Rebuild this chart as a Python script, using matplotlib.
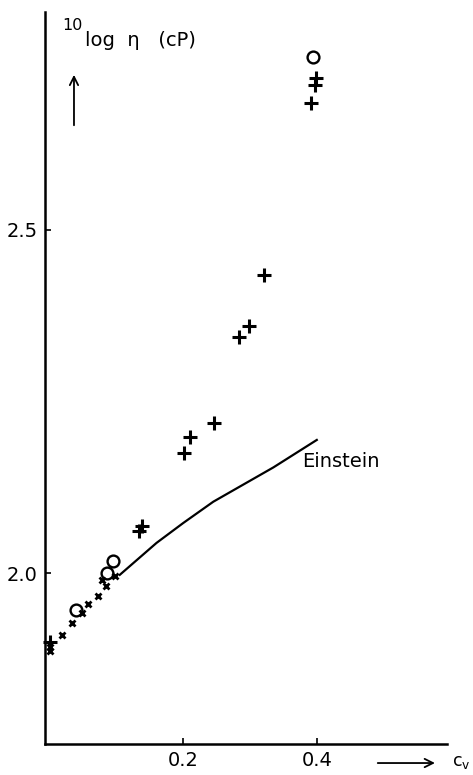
import numpy as np
import matplotlib
matplotlib.use('Agg')
import matplotlib.pyplot as plt

# measured points, cv (volume fraction) vs 10log eta
plus_cv=[0.0,0.133,0.138,0.2015,0.210,0.246,0.284,0.299,0.321,0.3985,0.397,0.391]
plus_eta=[1.8995,2.061,2.068,2.175,2.198,2.219,2.344,2.360,2.434,2.721,2.711,2.685]

cross_cv=[0.0,0.0,0.019,0.033,0.048,0.058,0.072,0.084,0.078,0.098]
cross_eta=[1.893,1.887,1.910,1.927,1.942,1.955,1.967,1.9815,1.990,1.9965]

circ_cv=[0.040,0.086,0.095,0.394]
circ_eta=[1.9465,2.000,2.017,2.752]

# Einstein curve
ein_cv=[0.105,0.16,0.2,0.245,0.335,0.4]
ein_eta=[1.9975,2.044,2.073,2.104,2.154,2.194]

fig=plt.figure(figsize=(4.73,7.75),dpi=100)
ax=fig.add_axes([0.0945,0.04,0.8505,0.9445])

ax.plot(ein_cv,ein_eta,'k-',lw=1.6)
ax.plot(plus_cv,plus_eta,'k+',ms=10,mew=2.2,clip_on=False)
ax.plot(cross_cv,cross_eta,'kx',ms=5,mew=2.0,clip_on=False)
ax.plot(circ_cv,circ_eta,'o',mfc='none',mec='k',ms=8.5,mew=1.7,clip_on=False)

ax.text(0.378,2.162,'Einstein',fontsize=14,va='center',ha='left')

ax.set_xlim(-0.0075,0.595)
ax.set_ylim(1.751,2.8175)
ax.set_xticks([0.2,0.4])
ax.set_xticklabels(['0.2','0.4'])
ax.set_yticks([2.0,2.5])
ax.set_yticklabels(['2.0','2.5'])
ax.tick_params(direction='in',length=4,width=1.2,labelsize=14,pad=5)
for s in ['top','right']:
    ax.spines[s].set_visible(False)
for s in ['left','bottom']:
    ax.spines[s].set_linewidth(1.8)

# axis labels with arrows
ax.text(0.043,0.981,'10',transform=ax.transAxes,fontsize=11.5,va='center',ha='left')
ax.text(0.100,0.9536,'log  η   (cP)',transform=ax.transAxes,fontsize=14,va='baseline',ha='left')
ax.annotate('',xy=(0.0728,0.918),xytext=(0.0728,0.8415),xycoords='axes fraction',
            arrowprops=dict(arrowstyle='->',lw=1.3,color='k',mutation_scale=15),annotation_clip=False)
ax.annotate('',xy=(0.977,-0.026),xytext=(0.821,-0.026),xycoords='axes fraction',
            arrowprops=dict(arrowstyle='->',lw=1.3,color='k',mutation_scale=15),annotation_clip=False)
ax.text(1.012,-0.024,'c$_\\mathregular{v}$',transform=ax.transAxes,fontsize=12.5,va='center',ha='left')

fig.savefig('out.png',dpi=100)
